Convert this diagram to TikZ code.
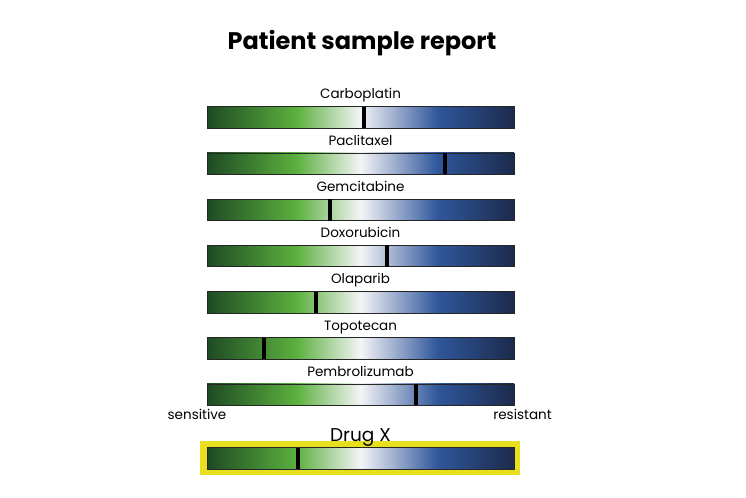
\documentclass[tikz,border=0pt]{standalone}
\usepackage{fontspec}
\setmainfont{Poppins}
\newfontfamily\titlefont{Poppins}
\usetikzlibrary{positioning}
\definecolor{dgreen}{HTML}{1E4A24}
\definecolor{lgreen}{HTML}{5BB03E}
\definecolor{wmid}{HTML}{F4F4F6}
\definecolor{bblue}{HTML}{30579C}
\definecolor{navy}{HTML}{1C2A4C}
\definecolor{hilite}{HTML}{E8DF1E}
\pgfdeclarehorizontalshading{drugshade}{100bp}{color(0bp)=(dgreen); color(25bp)=(dgreen); color(39.5bp)=(lgreen); color(50bp)=(wmid); color(62.5bp)=(bblue); color(75bp)=(navy); color(100bp)=(navy)}
\tikzset{
  barbox/.style={shading=drugshade, draw=black!85, line width=0.8bp, minimum width=307bp, minimum height=21.5bp, inner sep=0pt},
  tick/.style={line width=4bp, draw=black},
  druglabel/.style={font=\fontsize{13.5bp}{15bp}\selectfont, inner sep=0pt, anchor=base},
  endlabel/.style={font=\fontsize{13.5bp}{15bp}\selectfont, inner sep=0pt, anchor=base},
}
\begin{document}
\begin{tikzpicture}[x=1bp,y=-1bp]
\useasboundingbox (0,0) rectangle (746,498);
\node[font=\titlefont\bfseries\fontsize{24bp}{27bp}\selectfont, inner sep=0pt] (title) at (362,43) {Patient sample report};
% bars
\foreach \nm/\lab/\mk [count=\i from 0] in {carbo/Carboplatin/364, pacli/Paclitaxel/444.5, gemci/Gemcitabine/330, doxo/Doxorubicin/387, olap/Olaparib/315.5, topo/Topotecan/264, pembro/Pembrolizumab/416} {
  \pgfmathsetmacro{\yc}{117.5+46.2*\i}
  \node[barbox] (\nm) at (360.5,\yc) {};
  \node[druglabel] (\nm-lab) at (360.5,\yc-18.5) {\lab};
  \coordinate (\nm-t) at (\mk,\yc-10.75);
  \coordinate (\nm-b) at (\mk,\yc+10.75);
  \draw[tick] (\nm-t) -- (\nm-b);
}
\node[endlabel] (sens) at (197,419) {sensitive};
\node[endlabel] (resi) at (522.5,419) {resistant};
% Drug X
\node[fill=hilite, minimum width=320bp, minimum height=34bp, inner sep=0pt] (frame) at (360,458) {};
\node[barbox] (drugx) at (360.5,458.5) {};
\coordinate (drugx-t) at (298,447.75);
\coordinate (drugx-b) at (298,469.25);
\draw[tick] (drugx-t) -- (drugx-b);
\node[font=\fontsize{18.5bp}{20bp}\selectfont, inner sep=0pt, anchor=base] (dxlab) at (360.5,441) {Drug X};
\end{tikzpicture}
\end{document}
